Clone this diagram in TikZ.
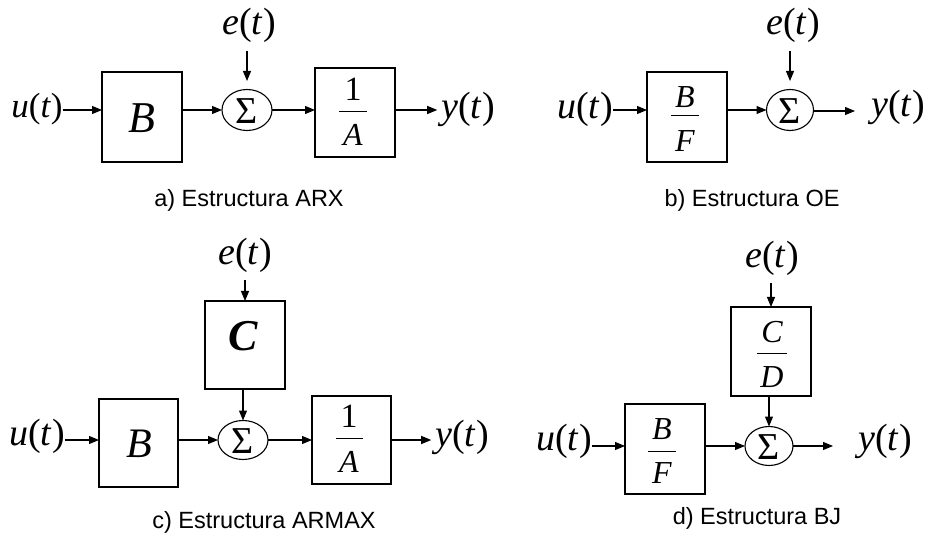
\documentclass[tikz,border=0pt]{standalone}
\usepackage{fontspec}
\setmainfont{Liberation Serif}
\newfontfamily\capfont{Liberation Sans}
\usetikzlibrary{arrows.meta,shapes.geometric}
\begin{document}
\begin{tikzpicture}[x=1pt,y=-1pt,
  every node/.style={inner sep=0pt,outer sep=0pt},
  sig/.style={font=\fontsize{38}{44}\selectfont},
  sigs/.style={font=\fontsize{35}{40}\selectfont},
  frac/.style={font=\fontsize{32}{36}\selectfont\itshape},
  one/.style={font=\fontsize{34}{38}\selectfont},
  big/.style={font=\fontsize{44}{50}\selectfont\itshape},
  captxt/.style={font=\capfont\fontsize{23.5}{28}\selectfont},
  blk/.style={draw,line width=1.1pt},
  sumn/.style={draw,ellipse,line width=1.1pt},
  sumt/.style={font=\fontsize{38}{42}\selectfont},
  arr/.style={line width=1.1pt,-{Triangle[length=10pt,width=8pt]}},
  bar/.style={line width=1pt}]
\useasboundingbox (0,0) rectangle (929,537);
% ---------------- a) ARX
\node[sigs] (uA) at (37,109) {\textit{u}(\textit{t})};
\node[blk,minimum width=80,minimum height=90] (Ba) at (142,117) {};
\node[big] (Bat) at (142,118) {B};
\node[sumn,minimum width=50,minimum height=41] (S1) at (247,110) {};
\node[sumt] (S1t) at (247,111) {Σ};
\node[sig] (eA) at (249,25) {\textit{e}(\textit{t})};
\node[blk,minimum width=80,minimum height=89] (A1) at (355,112.5) {};
\node[one] (A1n) at (353,89.5) {1};
\draw[bar] (339,112) -- (367,112);
\node[frac] (A1d) at (353,135) {A};
\node[sig] (yA) at (468,109) {\textit{y}(\textit{t})};
\draw[arr] (uA.east |- S1) -- (Ba.west |- S1);
\draw[arr] (Ba.east |- S1) -- (S1.west);
\draw[arr,shorten <=9pt,shorten >=8.5pt] (eA.south -| S1) -- (S1.north);
\draw[arr] (S1.east) -- (S1.east -| A1.west);
\draw[arr] (A1.east |- S1) -- ([xshift=-4pt]yA.west |- S1);
\node[captxt] (capA) at (249,200) {a) Estructura ARX};
% ---------------- b) OE
\node[sig] (uB) at (585,109) {\textit{u}(\textit{t})};
\node[blk,minimum width=80,minimum height=90] (BF1) at (687,117) {};
\node[frac] (BF1n) at (685,97) {B};
\draw[bar] (671,116) -- (699,116);
\node[frac] (BF1d) at (685,141) {F};
\node[sumn,minimum width=47,minimum height=41] (S2) at (790,110) {};
\node[sumt] (S2t) at (790,111) {Σ};
\node[sig] (eB) at (793,25) {\textit{e}(\textit{t})};
\node[sig] (yB) at (898,107) {\textit{y}(\textit{t})};
\draw[arr] (uB.east |- S2) -- (BF1.west |- S2);
\draw[arr] (BF1.east |- S2) -- (S2.west);
\draw[arr,shorten <=9pt,shorten >=8.5pt] (eB.south -| S2) -- (S2.north);
\coordinate (oB) at (855,111);
\draw[arr] (S2.east |- oB) -- (oB);
\node[captxt] (capB) at (752,200) {b) Estructura OE};
% ---------------- c) ARMAX
\node[sig] (eC) at (245,255) {\textit{e}(\textit{t})};
\node[blk,minimum width=80,minimum height=88] (Cc) at (245,345) {};
\node[font=\fontsize{44}{50}\selectfont\bfseries\itshape] (Cct) at (243,336) {C};
\node[sumn,minimum width=50,minimum height=39] (S3) at (243,440) {};
\node[sumt] (S3t) at (243,441) {Σ};
\node[sig] (uC) at (37,436) {\textit{u}(\textit{t})};
\node[blk,minimum width=79,minimum height=88] (Bc) at (138.5,443) {};
\node[font=\fontsize{42}{46}\selectfont\itshape] (Bct) at (139,444) {B};
\node[blk,minimum width=79,minimum height=88] (A2) at (351.5,440) {};
\node[one] (A2n) at (349,416) {1};
\draw[bar] (336,438) -- (363,438);
\node[frac] (A2d) at (349,462) {A};
\node[sig] (yC) at (462,437) {\textit{y}(\textit{t})};
\draw[arr,shorten <=8pt] (eC.south -| Cc) -- (Cc.north);
\draw[arr] (Cc.south -| S3) -- (S3.north);
\draw[arr] (uC.east |- S3) -- (Bc.west |- S3);
\draw[arr] (Bc.east |- S3) -- (S3.west);
\draw[arr] (S3.east) -- (S3.east -| A2.west);
\draw[arr] (A2.east |- S3) -- ([xshift=-4pt]yC.west |- S3);
\node[captxt] (capC) at (264,522) {c) Estructura ARMAX};
% ---------------- d) BJ
\node[sig] (eD) at (772,258) {\textit{e}(\textit{t})};
\node[blk,minimum width=80,minimum height=89] (CD) at (771,351.5) {};
\node[frac] (CDn) at (772,332) {C};
\draw[bar] (757,353) -- (787,353);
\node[frac] (CDd) at (772,377) {D};
\node[sumn,minimum width=48,minimum height=39] (S4) at (769,446) {};
\node[sumt] (S4t) at (769,447) {Σ};
\node[sig] (uD) at (564,441) {\textit{u}(\textit{t})};
\node[blk,minimum width=80,minimum height=90] (BF2) at (665,449) {};
\node[frac] (BF2n) at (662,429) {B};
\draw[bar] (648,451) -- (676,451);
\node[frac] (BF2d) at (662,473) {F};
\node[sig] (yD) at (885,441) {\textit{y}(\textit{t})};
\draw[arr,shorten <=8pt] (eD.south -| CD) -- (CD.north);
\draw[arr] (CD.south -| S4) -- (S4.north);
\draw[arr] (uD.east |- S4) -- (BF2.west |- S4);
\draw[arr] (BF2.east |- S4) -- (S4.west);
\coordinate (oD) at (833,446);
\draw[arr] (S4.east) -- (oD);
\node[captxt] (capD) at (757,518) {d) Estructura BJ};
\end{tikzpicture}
\end{document}
